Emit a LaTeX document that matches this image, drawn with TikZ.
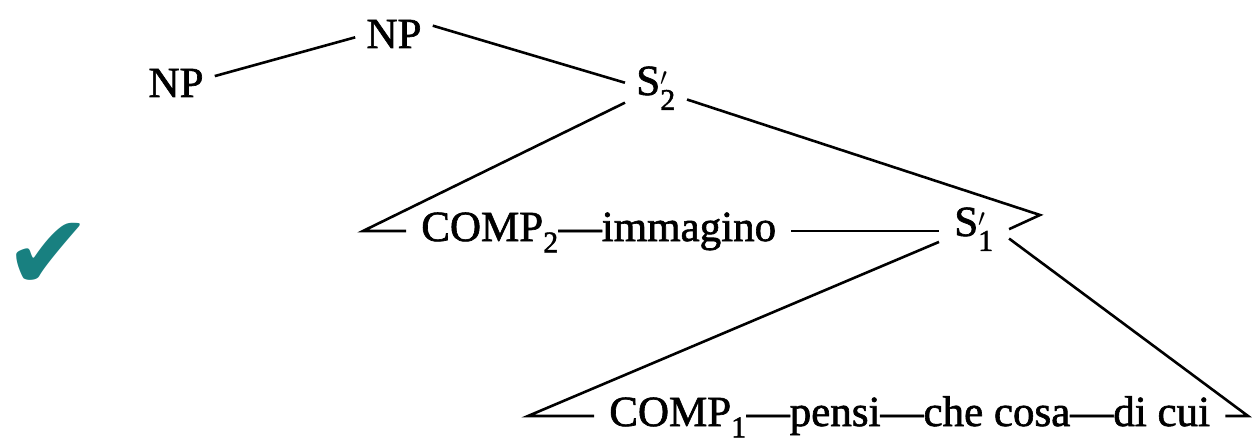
\documentclass[tikz,border=0pt]{standalone}
\usepackage{amsmath}
\usepackage{fontspec}
\setmainfont{Liberation Serif}
\newfontfamily\treefont{Liberation Serif}[FakeBold=1.5]
\newfontfamily\symfont{DejaVu Sans}
\definecolor{checkteal}{RGB}{24,128,128}

\begin{document}
\begin{tikzpicture}[x=1pt, y=-1pt, line width=2.6pt,
	font=\treefont\fontsize{43}{50}\selectfont,
	lab/.style={anchor=base, inner xsep=10pt, inner ysep=4pt},
	row/.style={anchor=base west, inner xsep=14pt}]
	\useasboundingbox (0, 0) rectangle (1252, 441);
	\node[text=checkteal, font=\symfont\fontsize{105}{110}\selectfont] (tick) at (48, 256) {✔};
	\node[lab] (np1) at (176, 97) {NP};
	\node[lab] (np2) at (394, 48) {NP};
	\node[lab] (s2) at (656, 95) {S$'_{\text{2}}$};
	\coordinate (L2) at (363, 231);
	\coordinate (R2) at (1040, 215);
	\node[row] (c2) at (406, 241) {COMP$_{\text{2}}$—immagino};
	\node[row] (s1) at (939, 236) {S$'_{\text{1}}$};
	\coordinate (L1) at (528, 416);
	\coordinate (R1) at (1248, 416);
	\node[row] (c1) at (594, 426) {COMP$_{\text{1}}$—pensi—che cosa—di cui};
	\draw (np1.10) -- (np2.185);
	\draw (np2.12) -- (s2.170);
	\draw (s2.205) -- (L2) -- (L2 -| c2.west);
	\draw (s2.340) -- (R2) -- (s1.east);
	\draw (c2.east |- L2) -- (s1.west |- L2);
	\draw (s1.200) -- (L1) -- (L1 -| c1.west);
	\draw (s1.345) -- (R1) -- (c1.east |- R1);
\end{tikzpicture}
\end{document}
